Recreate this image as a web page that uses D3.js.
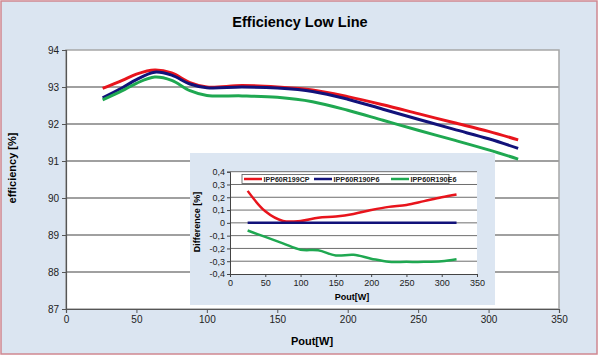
<!DOCTYPE html>
<html><head><meta charset="utf-8">
<script src="https://cdn.jsdelivr.net/npm/d3@7"></script>
<style>body{margin:0;background:#fff}svg{display:block;font-family:"Liberation Sans",Arial,sans-serif}</style>
</head><body><svg id="c" width="599" height="356"></svg>
<script>
// Main chart data
const mainX = [26, 40, 50, 63, 75, 88, 100, 125, 150, 175, 200, 225, 250, 275, 300, 321];
const red   = [92.96, 93.18, 93.35, 93.46, 93.38, 93.12, 93.0, 93.04, 93.0, 92.92, 92.74, 92.52, 92.28, 92.04, 91.8, 91.57];
const blue  = [92.71, 92.98, 93.2, 93.40, 93.32, 93.08, 92.98, 93.0, 92.97, 92.88, 92.67, 92.40, 92.13, 91.86, 91.6, 91.34];
const green = [92.65, 92.9, 93.1, 93.27, 93.18, 92.9, 92.77, 92.76, 92.72, 92.6, 92.37, 92.1, 91.83, 91.57, 91.3, 91.05];
const mainXTicks = [0, 50, 100, 150, 200, 250, 300, 350];
const mainYTicks = [87, 88, 89, 90, 91, 92, 93, 94];
// Inset (difference) data
const diffX = [25, 50, 75, 100, 125, 150, 175, 200, 225, 250, 275, 300, 321];
const diffRed   = [0.25, 0.09, 0.015, 0.015, 0.04, 0.05, 0.07, 0.10, 0.125, 0.14, 0.17, 0.20, 0.222];
const diffBlue  = [0, 0, 0, 0, 0, 0, 0, 0, 0, 0, 0, 0, 0];
const diffGreen = [-0.06, -0.11, -0.16, -0.21, -0.215, -0.255, -0.25, -0.28, -0.305, -0.305, -0.305, -0.30, -0.285];
const diffYTicks = [-0.4, -0.3, -0.2, -0.1, 0, 0.1, 0.2, 0.3, 0.4];
const seriesNames = ["IPP60R199CP", "IPP60R190P6", "IPP60R190E6"];
const colors = ["#e8141c", "#12127a", "#1fa851"];

const svg = d3.select("#c");
svg.append("rect").attr("x",1).attr("y",1).attr("width",596).attr("height",353)
  .attr("fill","#dbe5f1").attr("stroke","#cf8790").attr("stroke-width",1.5);

svg.append("text").attr("x",300).attr("y",27).attr("text-anchor","middle")
  .attr("font-size",14.5).attr("font-weight","bold").text("Efficiency Low Line");

const x = d3.scaleLinear().domain([0,350]).range([66,559]);
const y = d3.scaleLinear().domain([87,94]).range([309,50]);

svg.append("rect").attr("x",66).attr("y",50).attr("width",493).attr("height",259)
  .attr("fill","#fff").attr("stroke","#a6a6a6").attr("stroke-width",1.5);

svg.append("g").selectAll("line").data(mainYTicks.filter(d=>d>87 && d<94)).join("line")
  .attr("x1",66).attr("x2",559).attr("y1",d=>y(d)).attr("y2",d=>y(d))
  .attr("stroke","#a0a0a0").attr("stroke-width",2);

const yAxis = svg.append("g").attr("transform","translate(66,0)")
  .call(d3.axisLeft(y).tickValues(mainYTicks).tickSize(4).tickFormat(d3.format("d")));
const xAxis = svg.append("g").attr("transform","translate(0,309)")
  .call(d3.axisBottom(x).tickValues(mainXTicks).tickSize(4).tickFormat(d3.format("d")));
[yAxis,xAxis].forEach(a=>{
  a.select(".domain").attr("stroke","#555").attr("stroke-width",1.2);
  a.selectAll(".tick line").attr("stroke","#555");
  a.selectAll("text").attr("font-size",10).attr("fill","#222").attr("font-family","Liberation Sans, Arial, sans-serif");
});
yAxis.selectAll("text").attr("x",-7);

svg.append("text").attr("transform","translate(16,168) rotate(-90)").attr("text-anchor","middle")
  .attr("font-size",11).attr("font-weight","bold").text("efficiency [%]");
svg.append("text").attr("x",312).attr("y",345).attr("text-anchor","middle")
  .attr("font-size",11).attr("font-weight","bold").text("Pout[W]");

const line = d3.line().curve(d3.curveCatmullRom.alpha(0.5));
[red,blue,green].forEach((s,i)=>{
  svg.append("path").attr("d", line(mainX.map((v,j)=>[x(v), y(s[j])])))
    .attr("fill","none").attr("stroke",colors[i]).attr("stroke-width",3);
});

// Inset
const ig = svg.append("g");
ig.append("rect").attr("x",190).attr("y",153).attr("width",305).attr("height",152).attr("fill","#dce6f2");
const ix = d3.scaleLinear().domain([0,350]).range([230,477]);
const iy = d3.scaleLinear().domain([-0.4,0.4]).range([274,171.7]);
ig.append("rect").attr("x",230).attr("y",171.7).attr("width",247).attr("height",102.3).attr("fill","#fff");
ig.append("g").selectAll("line").data(diffYTicks.filter(d=>d>-0.4)).join("line")
  .attr("x1",230).attr("x2",477).attr("y1",d=>iy(d)).attr("y2",d=>iy(d))
  .attr("stroke","#6e6e6e").attr("stroke-width",1);
const fmt = d => d3.format(".1f")(d).replace(".",",").replace("−","-");
const iyAxis = ig.append("g").attr("transform","translate(230,0)")
  .call(d3.axisLeft(iy).tickValues(diffYTicks).tickSize(3).tickFormat(d => d===0 ? "0" : fmt(d)));
const ixAxis = ig.append("g").attr("transform","translate(0,274)")
  .call(d3.axisBottom(ix).tickValues(mainXTicks).tickSize(3).tickFormat(d3.format("d")));
[iyAxis,ixAxis].forEach(a=>{
  a.select(".domain").attr("stroke","#444");
  a.selectAll(".tick line").attr("stroke","#444");
  a.selectAll("text").attr("font-size",9).attr("fill","#222").attr("font-family","Liberation Sans, Arial, sans-serif");
});
iyAxis.selectAll("text").attr("x",-5);
ixAxis.selectAll("text").attr("y",6);
ig.append("text").attr("transform","translate(200,222) rotate(-90)").attr("text-anchor","middle")
  .attr("font-size",9).attr("font-weight","bold").text("Difference [%]");
ig.append("text").attr("x",352).attr("y",300).attr("text-anchor","middle")
  .attr("font-size",9).attr("font-weight","bold").text("Pout[W]");

[diffRed,diffBlue,diffGreen].forEach((s,i)=>{
  ig.append("path").attr("d", line(diffX.map((v,j)=>[ix(v), iy(s[j])])))
    .attr("fill","none").attr("stroke",colors[i]).attr("stroke-width",2.5);
});

// Legend
const lg = ig.append("g");
lg.append("rect").attr("x",242).attr("y",174.5).attr("width",207).attr("height",9)
  .attr("fill","#fff").attr("stroke","#555").attr("stroke-width",0.8);
const legX = [244, 314, 391];
seriesNames.forEach((n,i)=>{
  lg.append("line").attr("x1",legX[i]).attr("x2",legX[i]+18).attr("y1",179).attr("y2",179)
    .attr("stroke",colors[i]).attr("stroke-width",2.5);
  lg.append("text").attr("x",legX[i]+19.5).attr("y",181.6).attr("font-size",6.5).attr("font-weight","bold")
    .attr("textLength",46).attr("lengthAdjust","spacingAndGlyphs")
    .attr("fill","#222").text(n);
});
</script></body></html>
